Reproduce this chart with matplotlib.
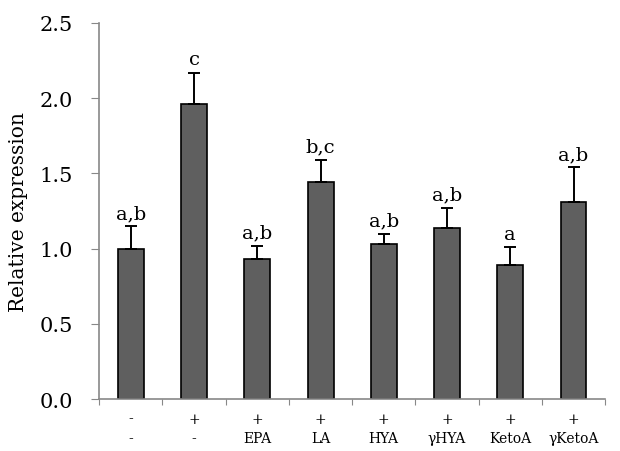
import matplotlib
matplotlib.use('Agg')
import matplotlib.pyplot as plt
import numpy as np

# data
top_row = ['-', '+', '+', '+', '+', '+', '+', '+']
bottom_row = ['-', '-', 'EPA', 'LA', 'HYA', 'γHYA', 'KetoA', 'γKetoA']
means = [1.00, 1.96, 0.93, 1.44, 1.03, 1.14, 0.89, 1.31]
errors = [0.15, 0.21, 0.09, 0.15, 0.07, 0.13, 0.12, 0.23]
letters = ['a,b', 'c', 'a,b', 'b,c', 'a,b', 'a,b', 'a', 'a,b']

plt.rcParams['font.family'] = ['DejaVu Serif']
plt.rcParams['mathtext.fontset'] = 'dejavuserif'

fig = plt.figure(figsize=(6.2, 4.52), dpi=100)
ax = fig.add_axes([0.16, 0.115, 0.816, 0.832])

x = np.arange(len(means))
ax.bar(x, means, width=0.41, color='#5f5f5f', edgecolor='black', linewidth=1.2, zorder=2)
ax.errorbar(x, means, yerr=[np.zeros(len(errors)), errors], fmt='none',
            ecolor='black', elinewidth=1.4, capsize=4.5, capthick=1.4, zorder=3)

for xi, m, e, lab in zip(x, means, errors, letters):
    ax.annotate(lab, (xi, m + e), xytext=(0, 3), textcoords='offset points',
                ha='center', va='bottom', fontsize=14)

ax.set_xlim(-0.5, len(means) - 0.5)
ax.set_ylim(0, 2.5)
ax.set_yticks(np.arange(0, 2.51, 0.5))
ax.set_yticklabels(['%.1f' % v for v in np.arange(0, 2.51, 0.5)], fontsize=15)
ax.set_ylabel('Relative expression', fontsize=14.5, labelpad=8)

# category boundary ticks, labels as minor ticks
ax.set_xticks(np.arange(-0.5, len(means), 1.0))
ax.set_xticklabels([])
ax.set_xticks(x, minor=True)
ax.set_xticklabels([t + '\n' + b for t, b in zip(top_row, bottom_row)], minor=True,
                   fontsize=10, linespacing=1.5)
ax.tick_params(axis='x', which='minor', length=0, pad=9)
ax.tick_params(axis='x', which='major', length=4, color='#888888', direction='out')
ax.tick_params(axis='y', length=6, color='#888888', direction='out', pad=13)

for s in ['top', 'right']:
    ax.spines[s].set_visible(False)
for s in ['left', 'bottom']:
    ax.spines[s].set_color('#888888')
    ax.spines[s].set_linewidth(1.2)

fig.savefig('out.png', dpi=100)
